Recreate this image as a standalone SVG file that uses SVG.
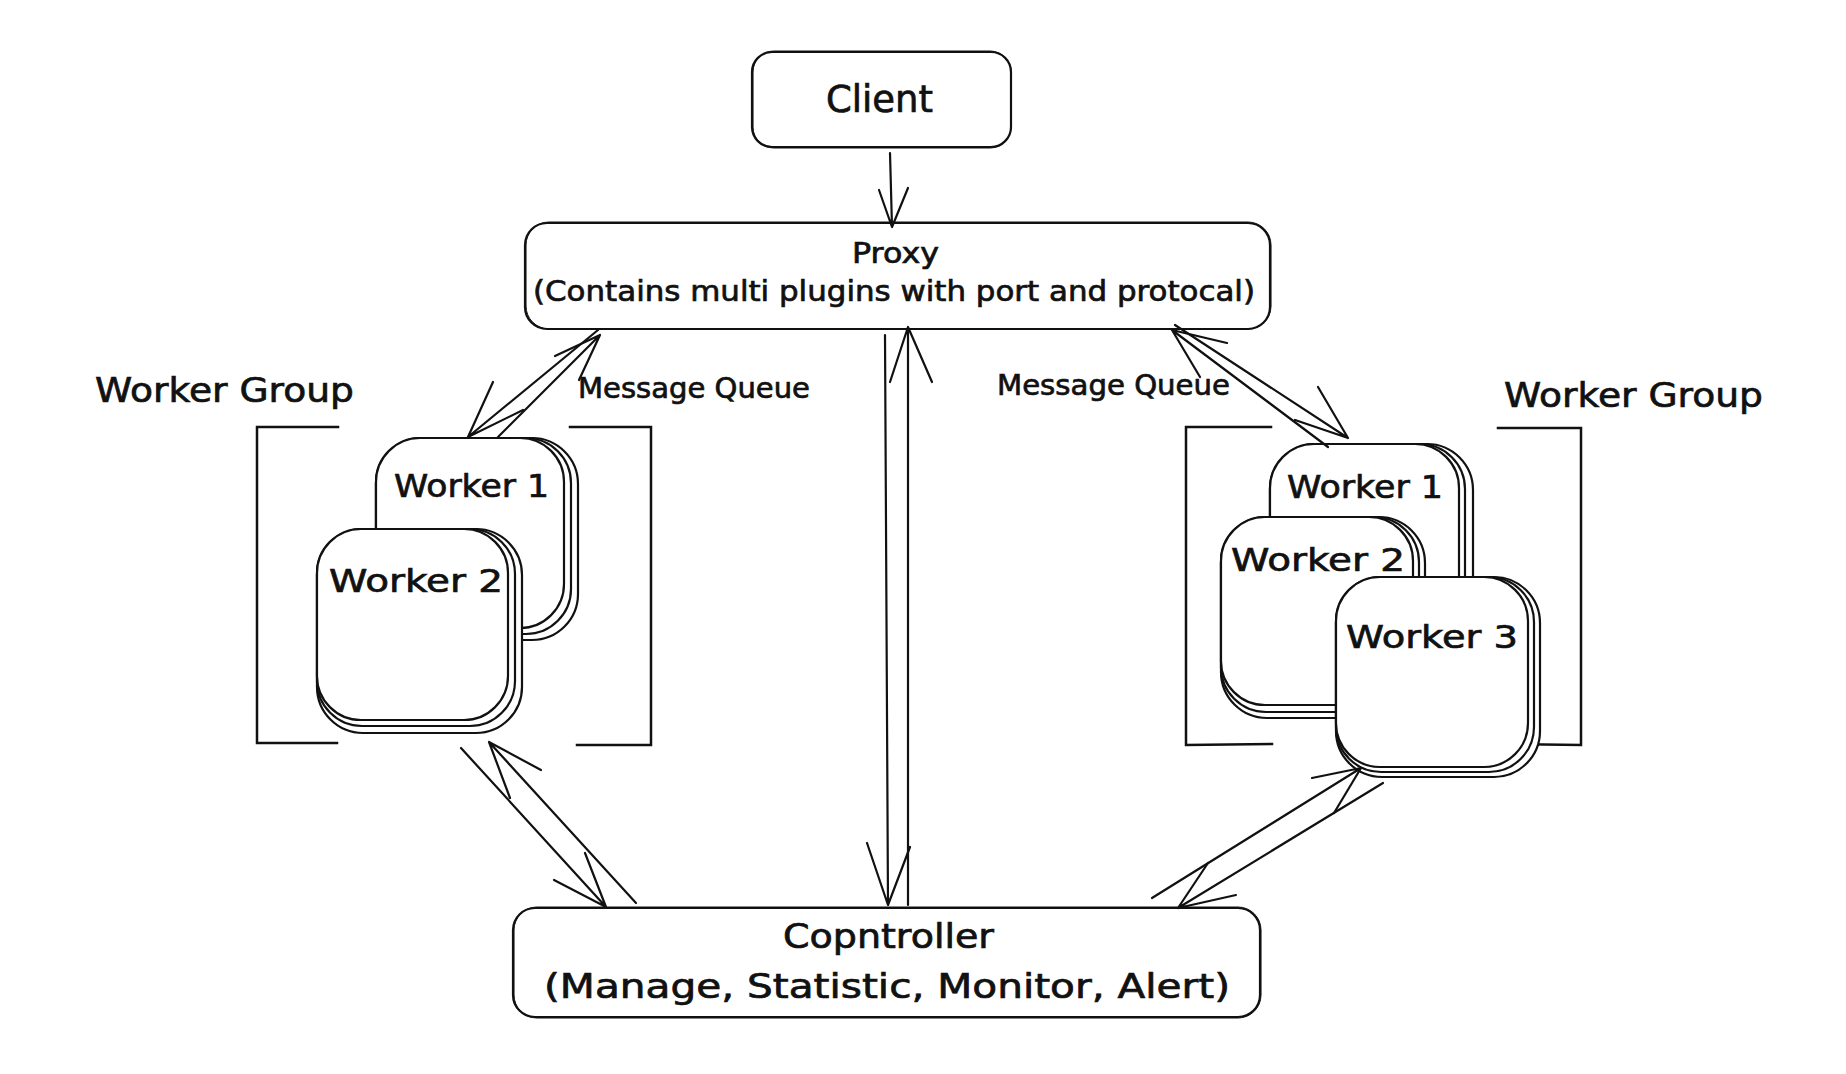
<svg xmlns="http://www.w3.org/2000/svg" width="1846" height="1074" viewBox="0 0 1846 1074">
<style>
.box{fill:#fff;stroke:#111;stroke-width:2.2;}
.sk{fill:none;stroke:#111;stroke-width:1;}
.ln{fill:none;stroke:#111;stroke-width:2.2;stroke-linecap:round;stroke-linejoin:round;}
.br{fill:none;stroke:#111;stroke-width:2.5;stroke-linecap:square;}
text{font-family:"DejaVu Sans","Liberation Sans",sans-serif;fill:#111;stroke:#111;stroke-width:0.7;}
.t37{font-size:37px;}
.t35{font-size:34px;}
.t33{font-size:33px;}
.t32{font-size:32px;}
.t28{font-size:28px;}
</style>
<rect width="1846" height="1074" fill="#fff"/>

<g id="left-group">
  <path class="br" d="M338,427 L257,427 L257,743 L337,743"/>
  <path class="br" d="M570,427 L651,427 L651,745 L577,745"/>
  <text class="t35" x="95" y="402" textLength="259" lengthAdjust="spacingAndGlyphs">Worker Group</text>
</g>
<g id="right-group">
  <path class="br" d="M1271,427 L1186,427 L1186,745 L1272,744"/>
  <path class="br" d="M1498,428 L1581,428 L1581,745 L1500,744"/>
  <text class="t35" x="1504" y="407" textLength="259" lengthAdjust="spacingAndGlyphs">Worker Group</text>
</g>

<g id="left-worker-1">
  <rect class="box" x="376" y="438" width="202" height="202" rx="46"/>
  <rect class="box" x="376" y="438" width="195" height="196" rx="45"/>
  <rect class="box" x="376" y="438" width="188" height="190" rx="44"/>
  <text class="t32" x="394" y="497" textLength="155" lengthAdjust="spacingAndGlyphs">Worker 1</text>
</g>
<g id="left-worker-2">
  <rect class="box" x="317" y="529" width="205" height="204" rx="46"/>
  <rect class="box" x="317" y="529" width="198" height="197" rx="45"/>
  <rect class="box" x="317" y="529" width="191" height="191" rx="44"/>
  <text class="t32" x="329" y="592" textLength="174" lengthAdjust="spacingAndGlyphs">Worker 2</text>
</g>

<g id="right-worker-1">
  <rect class="box" x="1270" y="444" width="203" height="200" rx="46"/>
  <rect class="box" x="1270" y="444" width="195" height="198" rx="45"/>
  <rect class="box" x="1270" y="444" width="189" height="196" rx="44"/>
  <text class="t32" x="1287" y="498" textLength="156" lengthAdjust="spacingAndGlyphs">Worker 1</text>
</g>
<g id="right-worker-2">
  <rect class="box" x="1221" y="517" width="204" height="201" rx="46"/>
  <rect class="box" x="1221" y="517" width="198" height="195" rx="45"/>
  <rect class="box" x="1221" y="517" width="192" height="188" rx="44"/>
  <text class="t32" x="1231" y="571" textLength="174" lengthAdjust="spacingAndGlyphs">Worker 2</text>
</g>
<g id="right-worker-3">
  <rect class="box" x="1336" y="577" width="204" height="200" rx="46"/>
  <rect class="box" x="1336" y="577" width="198" height="195" rx="45"/>
  <rect class="box" x="1336" y="577" width="192" height="190" rx="44"/>
  <text class="t32" x="1346" y="648" textLength="172" lengthAdjust="spacingAndGlyphs">Worker 3</text>
</g>

<g id="client">
  <rect class="box" x="752" y="52" width="259" height="95" rx="20"/>
  <rect class="sk" x="753" y="51" width="258" height="97" rx="21"/>
  <text class="t37" x="826" y="112" textLength="107" lengthAdjust="spacingAndGlyphs">Client</text>
</g>

<g id="proxy">
  <rect class="box" x="525" y="223" width="745" height="106" rx="22"/>
  <rect class="sk" x="526" y="222" width="745" height="107" rx="23"/>
  <text class="t28" x="852" y="263" textLength="87" lengthAdjust="spacingAndGlyphs">Proxy</text>
  <text class="t28" x="533" y="301" textLength="722" lengthAdjust="spacingAndGlyphs">(Contains multi plugins with port and protocal)</text>
</g>

<g id="controller">
  <rect class="box" x="513" y="908" width="747" height="109" rx="22"/>
  <rect class="sk" x="514" y="907" width="747" height="111" rx="23"/>
  <text class="t33" x="783" y="948" textLength="211" lengthAdjust="spacingAndGlyphs">Copntroller</text>
  <text class="t33" x="544" y="998" textLength="686" lengthAdjust="spacingAndGlyphs">(Manage, Statistic, Monitor, Alert)</text>
</g>

<g id="connectors">
  <path class="ln" d="M890,153 L892,227 M879,190 L892,227 L908,188"/>
  <path class="ln" d="M598,330 L468,437 M493,382 L468,437 L523,410"/>
  <path class="ln" d="M498,437 L600,335 M555,356 L600,335 L579,380"/>
  <path class="ln" d="M1175,325 L1348,438 M1318,387 L1348,438 L1295,420"/>
  <path class="ln" d="M1328,447 L1172,330 M1200,377 L1172,330 L1227,343"/>
  <path class="ln" d="M885,335 L888,905 M867,843 L888,905 L910,847"/>
  <path class="ln" d="M908,905 L908,327 M890,382 L908,327 L932,382"/>
  <path class="ln" d="M461,748 L606,907 M554,880 L606,907 L585,853"/>
  <path class="ln" d="M636,903 L489,742 M541,770 L489,742 L510,798"/>
  <path class="ln" d="M1152,898 L1361,768 M1312,778 L1361,768 L1334,813"/>
  <path class="ln" d="M1383,783 L1178,908 M1236,895 L1178,908 L1208,863"/>
</g>

<g id="connector-labels">
  <text class="t28" x="578" y="398" textLength="232" lengthAdjust="spacingAndGlyphs">Message Queue</text>
  <text class="t28" x="997" y="395" textLength="233" lengthAdjust="spacingAndGlyphs">Message Queue</text>
</g>
</svg>
